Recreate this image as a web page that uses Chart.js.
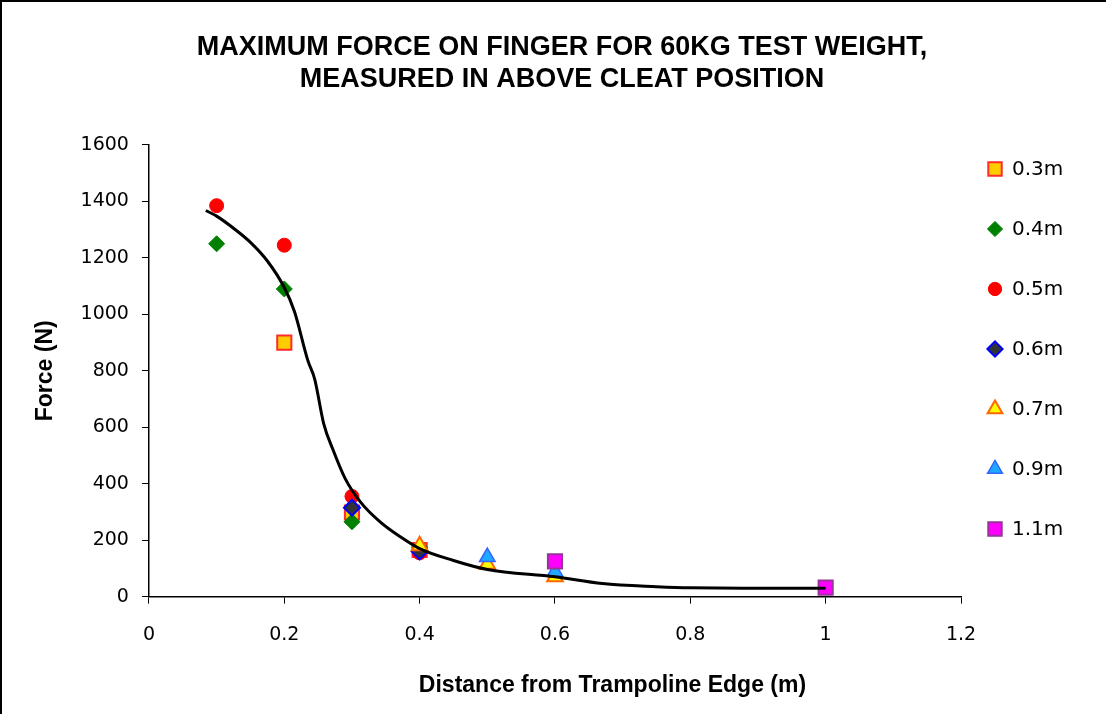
<!DOCTYPE html>
<html>
<head>
<meta charset="utf-8">
<script src="https://cdn.jsdelivr.net/npm/chart.js@4"></script>
<style>
  html, body { margin: 0; padding: 0; background: #fff; }
  #wrap { position: relative; width: 1106px; height: 714px; border-left: 2px solid #000; border-top: 2px solid #000; box-sizing: border-box; }
</style>
</head>
<body>
<div id="wrap"><canvas id="chart"></canvas></div>
<script>
// - Dados

const xTicks = [0, 0.2, 0.4, 0.6, 0.8, 1, 1.2]
const yTicks = [0, 200, 400, 600, 800, 1000, 1200, 1400, 1600]

const s03x = [0.2, 0.3, 0.4]
const s03y = [900, 298, 165]

const s04x = [0.1, 0.2, 0.3, 0.4]
const s04y = [1250, 1090, 265, 175]

const s05x = [0.1, 0.2, 0.3, 0.4]
const s05y = [1385, 1245, 355, 155]

const s06x = [0.3, 0.4]
const s06y = [315, 160]

const s07x = [0.4, 0.5, 0.6]
const s07y = [180, 115, 70]

const s09x = [0.5, 0.6]
const s09y = [140, 88]

const s11x = [0.6, 1.0]
const s11y = [125, 32]

const trendX = [0.084, 0.1, 0.125, 0.15, 0.175, 0.2, 0.215, 0.235, 0.245, 0.258, 0.272, 0.29, 0.313, 0.342, 0.372, 0.4, 0.45, 0.5, 0.6, 0.67, 0.75, 0.8, 0.9, 1.0]
const trendY = [1368, 1348, 1305, 1255, 1189, 1095, 1010, 835, 770, 615, 520, 418, 334, 264, 211, 170, 128, 96, 70, 46, 35, 31, 30, 30]

const xTitulo = 'Distance from Trampoline Edge (m)'

const pts = (xs, ys) => xs.map((x, i) => ({ x: x, y: ys[i] }))

const series = [
  { label: '0.3m', data: pts(s03x, s03y), pointStyle: 'rect', pointRadius: 10, backgroundColor: '#FFCC00', borderColor: '#FF2A2A', pointBorderWidth: 2 },
  { label: '0.4m', data: pts(s04x, s04y), pointStyle: 'rectRot', pointRadius: 8, backgroundColor: '#008000', borderColor: '#008000', pointBorderWidth: 1 },
  { label: '0.5m', data: pts(s05x, s05y), pointStyle: 'circle', pointRadius: 7, backgroundColor: '#FF0000', borderColor: '#FF0000', pointBorderWidth: 1 },
  { label: '0.6m', data: pts(s06x, s06y), pointStyle: 'rectRot', pointRadius: 8, backgroundColor: '#333333', borderColor: '#0000FF', pointBorderWidth: 2 },
  { label: '0.7m', data: pts(s07x, s07y), pointStyle: 'triangle', pointRadius: 9, backgroundColor: '#FFFF00', borderColor: '#FF6600', pointBorderWidth: 2 },
  { label: '0.9m', data: pts(s09x, s09y), pointStyle: 'triangle', pointRadius: 9, backgroundColor: '#1EA8FF', borderColor: '#3366FF', pointBorderWidth: 1.5 },
  { label: '1.1m', data: pts(s11x, s11y), pointStyle: 'rect', pointRadius: 10, backgroundColor: '#FF00FF', borderColor: '#993399', pointBorderWidth: 2 }
]

const datasets = series.map((s, i) => Object.assign({ showLine: false, order: 10 - i, pointHoverRadius: s.pointRadius }, s))

datasets.push({
  label: 'trend',
  data: pts(trendX, trendY),
  type: 'line',
  showLine: true,
  borderColor: '#000000',
  borderWidth: 3,
  pointRadius: 0,
  cubicInterpolationMode: 'monotone',
  fill: false,
  order: 0
})

// legenda desenhada a mao, a direita da area do grafico
// e o titulo do eixo x, que no original fica deslocado para a direita
const legendaLateral = {
  id: 'legendaLateral',
  afterDraw(chart) {
    const ctx = chart.ctx
    const area = chart.chartArea
    ctx.save()
    ctx.font = '20px "DejaVu Sans"'
    ctx.textBaseline = 'middle'
    ctx.textAlign = 'left'
    series.forEach((s, i) => {
      const cy = area.top + 24 + i * 60
      const cx = area.right + 34
      ctx.fillStyle = s.backgroundColor
      ctx.strokeStyle = s.borderColor
      ctx.lineWidth = s.pointBorderWidth
      Chart.helpers.drawPoint(ctx, { pointStyle: s.pointStyle, radius: s.pointStyle === 'rect' ? 9.5 : s.pointRadius * 0.95, rotation: 0, borderWidth: s.pointBorderWidth }, cx, cy)
      ctx.fillStyle = '#000'
      ctx.fillText(s.label, cx + 17, cy + 1)
    })

    const sx = chart.scales.x
    ctx.font = 'bold 23px "Liberation Sans"'
    ctx.textAlign = 'center'
    ctx.fillStyle = '#000'
    ctx.fillText(xTitulo, (area.left + area.right + 115) / 2, sx.bottom - 4 - 14)
    ctx.restore()
  }
}

const config = {
  type: 'scatter',
  data: { datasets: datasets },
  options: {
    responsive: false,
    animation: false,
    layout: { padding: { left: 26, right: 10, top: 0, bottom: 10 } },
    plugins: {
      title: {
        display: true,
        text: ['MAXIMUM FORCE ON FINGER FOR 60KG TEST WEIGHT,', 'MEASURED IN ABOVE CLEAT POSITION'],
        color: '#000',
        font: { family: 'Liberation Sans', size: 27, weight: 'bold', lineHeight: 1.185 },
        padding: { top: 30, bottom: 49 }
      },
      legend: { display: false },
      tooltip: { enabled: false }
    },
    scales: {
      x: {
        type: 'linear',
        min: 0,
        max: 1.2,
        afterBuildTicks: axis => { axis.ticks = xTicks.map(v => ({ value: v })) },
        ticks: { color: '#000', font: { family: 'DejaVu Sans', size: 19 }, padding: 20, callback: v => String(v) },
        grid: { drawOnChartArea: false, drawTicks: true, tickLength: 7, color: '#000' },
        border: { color: '#000', width: 1.5 },
        // espaco reservado; o texto visivel e desenhado no plugin
        title: { display: true, text: xTitulo, color: 'rgba(0,0,0,0)', font: { family: 'Liberation Sans', size: 23, weight: 'bold' }, padding: { top: 6, bottom: 4 } }
      },
      y: {
        min: 0,
        max: 1600,
        afterBuildTicks: axis => { axis.ticks = yTicks.map(v => ({ value: v })) },
        ticks: { color: '#000', font: { family: 'DejaVu Sans', size: 19 }, padding: 13, callback: v => String(v) },
        grid: { drawOnChartArea: false, drawTicks: true, tickLength: 7, color: '#000' },
        border: { color: '#000', width: 1.5 },
        title: { display: true, text: 'Force (N)', color: '#000', font: { family: 'Liberation Sans', size: 23, weight: 'bold' }, padding: { top: 4, bottom: 8 } }
      },
      // eixo vazio so para reservar espaco da legenda
      yLegenda: {
        position: 'right',
        display: true,
        ticks: { display: false },
        grid: { display: false },
        border: { display: false },
        afterFit: axis => { axis.width = 135 }
      }
    }
  },
  plugins: [legendaLateral]
}

const canvas = document.getElementById('chart')
canvas.width = 1104
canvas.height = 712

const grafico = new Chart(canvas, config)
</script>
</body>
</html>
